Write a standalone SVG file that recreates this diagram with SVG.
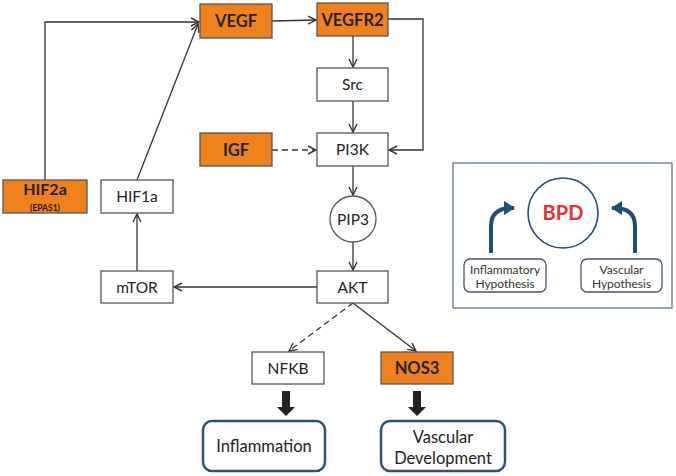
<svg xmlns="http://www.w3.org/2000/svg" width="676" height="476" viewBox="0 0 676 476">
<defs>
<style>
.box{fill:#fff;stroke:#555;stroke-width:1.3}
.or{fill:#F0821E;stroke:#555;stroke-width:1.3}
.t{font-family:Lato,"Open Sans",sans-serif;font-size:15.5px;fill:#222;text-anchor:middle}
.b{font-weight:bold;font-size:16.5px}
.ln{fill:none;stroke:#333;stroke-width:1.3}
.dash{stroke-dasharray:6,4}
.out{fill:#fff;stroke:#2c5078;stroke-width:2.5}
.hb{fill:#fff;stroke:#44546a;stroke-width:1.3}
.ht{font-family:Lato,"Open Sans",sans-serif;font-size:12px;fill:#333;text-anchor:middle}
.bl{fill:none;stroke:#1f4e79;stroke-width:4}
.big{font-size:17px}
.lg{font-size:16.5px}
</style>
<marker id="a" markerWidth="10" markerHeight="10" refX="9" refY="5" orient="auto" markerUnits="userSpaceOnUse">
<path d="M1,1 L9,5 L1,9" fill="none" stroke="#333" stroke-width="1.4"/>
</marker>
<marker id="ba" markerWidth="12" markerHeight="14" refX="10" refY="7" orient="auto" markerUnits="userSpaceOnUse">
<path d="M0,0 L11,7 L0,14 Z" fill="#1f4e79"/>
</marker>
</defs>
<g id="connectors">
<path class="ln" d="M45,180 V22 H199" marker-end="url(#a)"/>
<path class="ln" d="M137,180 L198,24" marker-end="url(#a)"/>
<path class="ln" d="M272,21 L316,20" marker-end="url(#a)"/>
<path class="ln" d="M388,19 H423 V150 H389" marker-end="url(#a)"/>
<path class="ln" d="M353,36 V67" marker-end="url(#a)"/>
<path class="ln" d="M353,101 V132" marker-end="url(#a)"/>
<path class="ln dash" d="M272,150 H316" marker-end="url(#a)"/>
<path class="ln" d="M353,166 V195" marker-end="url(#a)"/>
<path class="ln" d="M353,242 V270" marker-end="url(#a)"/>
<path class="ln" d="M317,287 H174" marker-end="url(#a)"/>
<path class="ln" d="M137,271 V214" marker-end="url(#a)"/>
<path class="ln dash" d="M353,303 L289,351" marker-end="url(#a)"/>
<path class="ln" d="M353,303 L416,351" marker-end="url(#a)"/>
<path d="M282,391 H290 V407 H295 L286,416 L277,407 H282 Z" fill="#222"/>
<path d="M413,391 H421 V407 H426 L417,416 L408,407 H413 Z" fill="#222"/>
</g>
<g id="VEGF"><rect class="or" x="200" y="4" width="72" height="34"/><text class="t b" x="236" y="27">VEGF</text></g>
<g id="VEGFR2"><rect class="or" x="317" y="3" width="71" height="33"/><text class="t b" x="352.5" y="25.5">VEGFR2</text></g>
<g id="Src"><rect class="box" x="317" y="68" width="71" height="33"/><text class="t" x="352.5" y="90">Src</text></g>
<g id="PI3K"><rect class="box" x="317" y="133" width="71" height="33"/><text class="t" x="352.5" y="155">PI3K</text></g>
<g id="IGF"><rect class="or" x="200" y="133" width="72" height="33"/><text class="t b" x="236" y="156">IGF</text></g>
<g id="HIF2a"><rect class="or" x="3" y="180" width="84" height="33"/><text x="45" y="194.5" style="font-family:Lato,'Open Sans',sans-serif;font-size:16px;font-weight:bold;fill:#222;text-anchor:middle">HIF2a</text><text x="45" y="210.5" style="font-family:Lato,'Open Sans',sans-serif;font-size:8.5px;font-weight:bold;fill:#2a1a10;text-anchor:middle">(EPAS1)</text></g>
<g id="HIF1a"><rect class="box" x="101" y="180" width="72" height="33"/><text class="t" x="137" y="202">HIF1a</text></g>
<g id="PIP3"><circle class="box" cx="353" cy="219" r="23"/><text class="t" x="353" y="224.5">PIP3</text></g>
<g id="mTOR"><rect class="box" x="101" y="271" width="72" height="32"/><text class="t" x="137" y="292.5">mTOR</text></g>
<g id="AKT"><rect class="box" x="317" y="271" width="71" height="32"/><text class="t" x="352.5" y="292.5">AKT</text></g>
<g id="NFKB"><rect class="box" x="252" y="352" width="72" height="32"/><text class="t" x="288" y="373.5">NFKB</text></g>
<g id="NOS3"><rect class="or" x="381" y="352" width="72" height="32"/><text class="t b" x="417" y="374">NOS3</text></g>
<g id="Inflammation"><rect class="out" x="203" y="421" width="122" height="50" rx="9"/><text class="t lg" x="264" y="452">Inflammation</text></g>
<g id="VascularDevelopment"><rect class="out" x="381" y="421" width="124" height="50" rx="9"/><text class="t lg" x="443" y="443">Vascular</text><text class="t lg" x="443" y="464">Development</text></g>
<g id="BPDpanel">
<rect x="453" y="163" width="219" height="145" fill="#fff" stroke="#5a7590" stroke-width="1.3"/>
<circle cx="563" cy="213" r="35" fill="#fff" stroke="#1f4e79" stroke-width="1.6"/>
<text x="563" y="220" font-family="Lato,'Open Sans',sans-serif" font-size="20" font-weight="bold" fill="#e8312a" text-anchor="middle">BPD</text>
<path class="bl" d="M491,253 V226 Q491,208 512,208 H514" marker-end="url(#ba)"/>
<path class="bl" d="M635,253 V226 Q635,208 614,208 H612" marker-end="url(#ba)"/>
<g id="InflammatoryHypothesis"><rect class="hb" x="464" y="259" width="82" height="33" rx="6"/><text class="ht" x="505" y="274">Inflammatory</text><text class="ht" x="505" y="288">Hypothesis</text></g>
<g id="VascularHypothesis"><rect class="hb" x="581" y="259" width="81" height="33" rx="6"/><text class="ht" x="621.5" y="274">Vascular</text><text class="ht" x="621.5" y="288">Hypothesis</text></g>
</g>
</svg>
